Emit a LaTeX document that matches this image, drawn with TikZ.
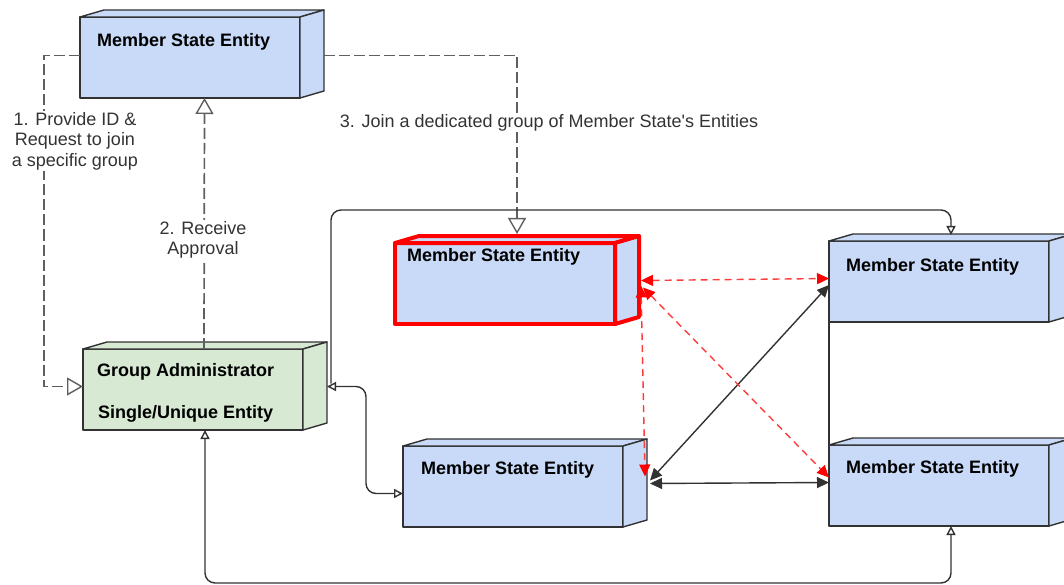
\documentclass[tikz,border=0pt]{standalone}
\usepackage{fontspec}
\setmainfont{Liberation Sans}
\usetikzlibrary{arrows.meta}

\definecolor{entityblue}{RGB}{201,218,248}
\definecolor{admingreen}{RGB}{215,233,211}
\definecolor{linegray}{RGB}{95,95,95}
\definecolor{darkline}{RGB}{50,50,50}
\definecolor{labelgray}{RGB}{51,51,51}
\definecolor{alertred}{RGB}{255,0,0}
\definecolor{linkred}{RGB}{255,60,60}

\newcommand{\entitybox}[3]{%
  \node[entitysize, entity, #3] (#1) at (#2) {};
  \draw[entity, #3] (#1.north west) -- ([shift={(24pt,7pt)}]#1.north west) -- ([shift={(24pt,7pt)}]#1.north east) -- (#1.north east) -- cycle;
  \draw[entity, #3] (#1.north east) -- ([shift={(24pt,7pt)}]#1.north east) -- ([shift={(24pt,7pt)}]#1.south east) -- (#1.south east) -- cycle;
}

\begin{document}
\begin{tikzpicture}[x=1pt, y=-1pt,
  entity/.style={draw=darkline, fill=entityblue, line width=1.4pt, line join=round},
  entitysize/.style={minimum width=220pt, minimum height=81pt, inner sep=0pt, outer sep=0pt, anchor=north west},
  entitytext/.style={anchor=base west, inner sep=0pt, font=\bfseries\fontsize{18pt}{21pt}\selectfont},
  steptext/.style={align=center, fill=white, inner sep=1pt, text=labelgray, font=\fontsize{18pt}{20.5pt}\selectfont},
  dashlink/.style={draw=linegray, line width=1.7pt, dash pattern=on 11pt off 4pt, -{Triangle[open, length=16pt, width=18pt, line width=1.4pt]}},
  link/.style={draw=darkline, line width=1.4pt, rounded corners=10pt},
  openend/.style={-{Triangle[open, length=9pt, width=9pt]}},
  openboth/.style={{Triangle[open, length=9pt, width=9pt]}-{Triangle[open, length=9pt, width=9pt]}},
  solidboth/.style={{Triangle[length=12pt, width=11pt]}-{Triangle[length=12pt, width=11pt]}},
  redlink/.style={draw=linkred, line width=1.4pt, dash pattern=on 7pt off 5pt, {Triangle[length=12pt, width=11pt, color=alertred]}-{Triangle[length=12pt, width=11pt, color=alertred]}}]
\useasboundingbox (0,0) rectangle (1064,585);

\entitybox{top}{80,17}{}
\entitybox{admin}{83,349}{fill=admingreen}
\entitybox{joiner}{395,243}{draw=alertred, line width=4pt}
\entitybox{mid}{403,446}{}
\entitybox{rtop}{829,241}{}
\entitybox{rbot}{829,445}{}

\draw[dashlink] ([yshift=2pt]top.west) -- ++(-36,0) |- ([yshift=3pt]admin.west);
\draw[dashlink] ([xshift=11pt]admin.north) -- ([xshift=14.5pt]top.south);
\draw[dashlink] ([shift={(24pt,2pt)}]top.east) -| ([shift={(12pt,9pt)}]joiner.north);

\draw[link, openend] ([shift={(28pt,6pt)}]admin.east) |- (951,210) -- ([shift={(12pt,6pt)}]rtop.north);
\draw[link, openboth] ([shift={(24pt,3pt)}]admin.east) -| (366,440) |- ([yshift=-7pt]mid.west);
\draw[link, openboth] ([xshift=12pt]admin.south) |- (951,583) -- ([xshift=12pt]rbot.south);
\draw[link] (rtop.south west) -- (rbot.north west);
\draw[link, solidboth] ([shift={(27pt,6pt)}]mid.east) -- ([yshift=-3.5pt]rtop.west);
\draw[link, solidboth] ([shift={(27pt,3pt)}]mid.east) -- ([yshift=3pt]rbot.west);

\draw[redlink] ([shift={(26pt,3pt)}]joiner.east) -- ([yshift=3pt]rtop.west);
\draw[redlink] ([shift={(28pt,-4pt)}]joiner.east) -- ([yshift=8pt]rbot.west);
\draw[redlink] ([shift={(26pt,-2pt)}]joiner.east) -- ([shift={(22pt,10pt)}]mid.east);

\node[entitytext] (topT) at ([shift={(17pt,-30pt)}]top.north west) {Member State Entity};
\node[entitytext] (adminT) at ([shift={(14pt,-27pt)}]admin.north west) {Group Administrator};
\node[entitytext] (adminU) at ([shift={(15pt,-69pt)}]admin.north west) {Single/Unique Entity};
\node[entitytext] (joinerT) at ([shift={(12pt,-18pt)}]joiner.north west) {Member State Entity};
\node[entitytext] (midT) at ([shift={(18pt,-28pt)}]mid.north west) {Member State Entity};
\node[entitytext] (rtopT) at ([shift={(17pt,-30pt)}]rtop.north west) {Member State Entity};
\node[entitytext] (rbotT) at ([shift={(17pt,-28pt)}]rbot.north west) {Member State Entity};

\node[steptext] (step1) at (75,141) {1. Provide ID \&\\Request to join\\a specific group};
\node[steptext] (step2) at (203,240) {2. Receive\\Approval};
\node[steptext] (step3) at (549,123) {3. Join a dedicated group of Member State\textquotesingle s Entities};
\end{tikzpicture}
\end{document}
